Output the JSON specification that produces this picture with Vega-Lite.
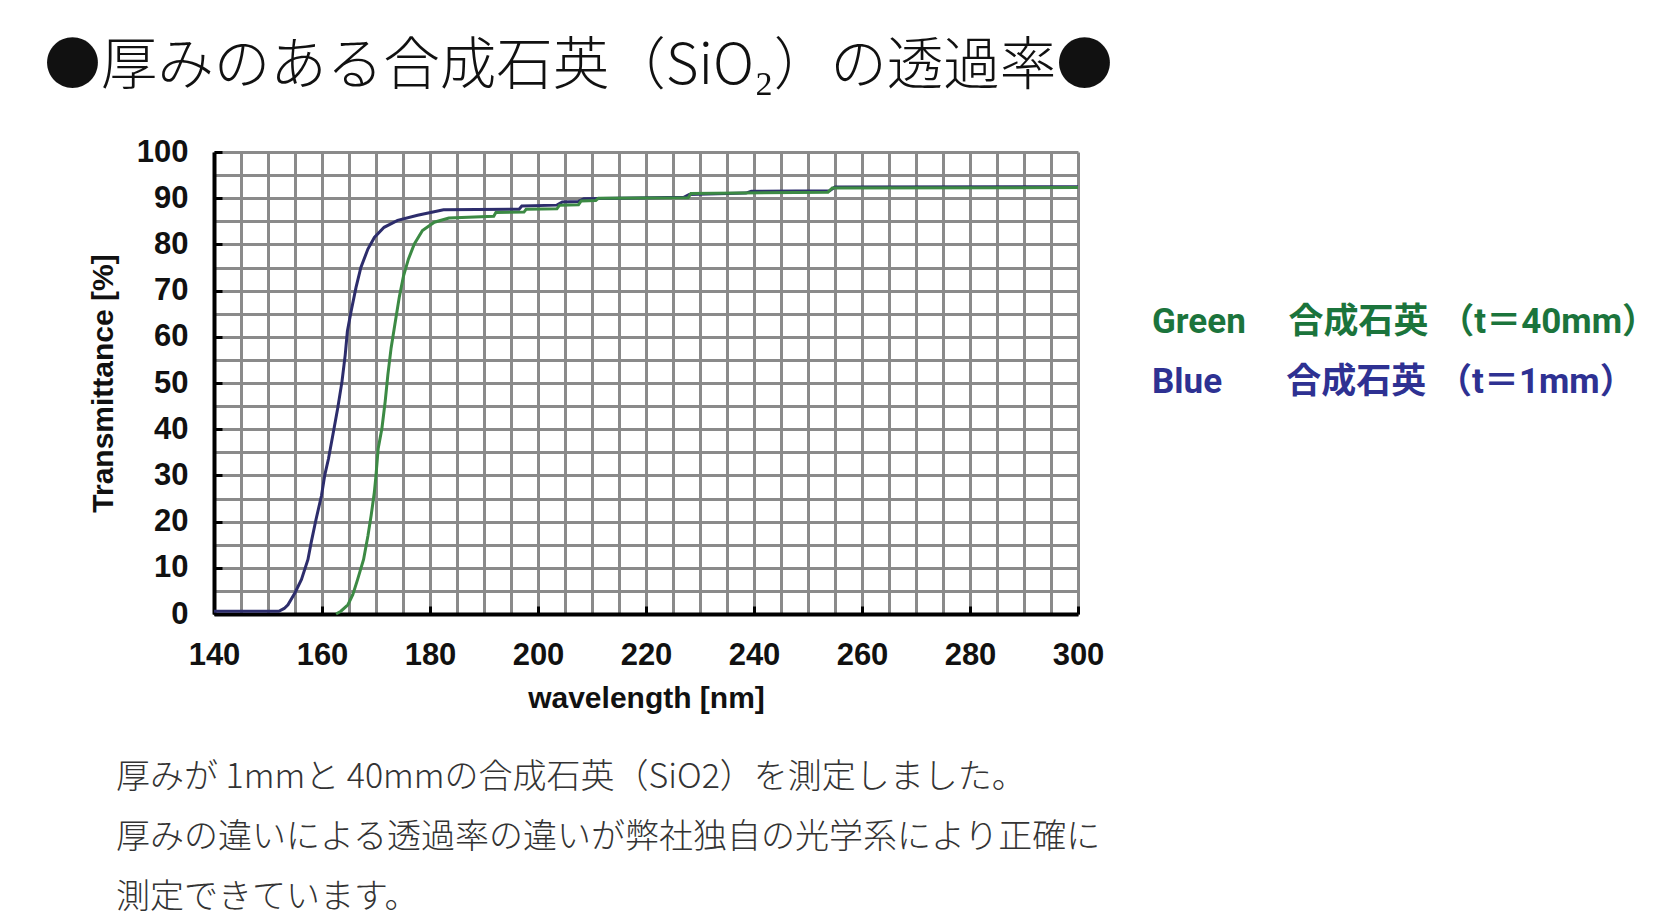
{
  "$schema": "https://vega.github.io/schema/vega-lite/v6.json",
  "background": "white",
  "padding": {"left": 44, "top": 38, "right": 0, "bottom": 5},
  "title": {
    "text": "●厚みのある合成石英（SiO₂）の透過率●",
    "anchor": "start",
    "frame": "bounds",
    "font": "Noto Sans CJK JP",
    "fontSize": 56.5,
    "fontWeight": 300,
    "color": "#111111",
    "offset": 41,
    "dx": -44
  },
  "vconcat": [
    {
      "width": 864,
      "height": 462,
      "title": {
        "text": [
          "厚みが 1mmと 40mmの合成石英（SiO2）を測定しました。",
          "厚みの違いによる透過率の違いが弊社独自の光学系により正確に",
          "測定できています。"
        ],
        "orient": "bottom",
        "anchor": "start",
        "frame": "group",
        "dx": -98,
        "offset": 48,
        "font": "Noto Sans CJK JP",
        "fontSize": 34,
        "fontWeight": 300,
        "color": "#333333",
        "lineHeight": 60
      },
      "data": {
        "values": [
          {"sample": "1mm", "wavelength": 140, "transmittance": 0.6},
          {"sample": "1mm", "wavelength": 146, "transmittance": 0.6},
          {"sample": "1mm", "wavelength": 152, "transmittance": 0.6},
          {"sample": "1mm", "wavelength": 153, "transmittance": 1.2},
          {"sample": "1mm", "wavelength": 153.7, "transmittance": 2},
          {"sample": "1mm", "wavelength": 155, "transmittance": 4.6},
          {"sample": "1mm", "wavelength": 156.2, "transmittance": 7.5},
          {"sample": "1mm", "wavelength": 157.4, "transmittance": 11.8},
          {"sample": "1mm", "wavelength": 158, "transmittance": 15.5},
          {"sample": "1mm", "wavelength": 158.9, "transmittance": 20.5},
          {"sample": "1mm", "wavelength": 159.9, "transmittance": 25.6},
          {"sample": "1mm", "wavelength": 160.5, "transmittance": 30},
          {"sample": "1mm", "wavelength": 161.2, "transmittance": 33.6},
          {"sample": "1mm", "wavelength": 162, "transmittance": 38.7},
          {"sample": "1mm", "wavelength": 162.9, "transmittance": 44.5},
          {"sample": "1mm", "wavelength": 163.7, "transmittance": 50.3},
          {"sample": "1mm", "wavelength": 164.3, "transmittance": 56.1},
          {"sample": "1mm", "wavelength": 164.7, "transmittance": 61.2},
          {"sample": "1mm", "wavelength": 165.4, "transmittance": 65.6},
          {"sample": "1mm", "wavelength": 166.3, "transmittance": 70.7},
          {"sample": "1mm", "wavelength": 167.2, "transmittance": 75},
          {"sample": "1mm", "wavelength": 168.5, "transmittance": 79},
          {"sample": "1mm", "wavelength": 169.7, "transmittance": 81.5},
          {"sample": "1mm", "wavelength": 171.5, "transmittance": 83.7},
          {"sample": "1mm", "wavelength": 174, "transmittance": 85.2},
          {"sample": "1mm", "wavelength": 177.7, "transmittance": 86.3},
          {"sample": "1mm", "wavelength": 182.5, "transmittance": 87.5},
          {"sample": "1mm", "wavelength": 196.5, "transmittance": 87.6},
          {"sample": "1mm", "wavelength": 197, "transmittance": 88.3},
          {"sample": "1mm", "wavelength": 203.5, "transmittance": 88.5},
          {"sample": "1mm", "wavelength": 204.5, "transmittance": 89.2},
          {"sample": "1mm", "wavelength": 207.5, "transmittance": 89.3},
          {"sample": "1mm", "wavelength": 208.5, "transmittance": 89.9},
          {"sample": "1mm", "wavelength": 227, "transmittance": 90.2},
          {"sample": "1mm", "wavelength": 228, "transmittance": 90.8},
          {"sample": "1mm", "wavelength": 238.5, "transmittance": 91.1},
          {"sample": "1mm", "wavelength": 239.5, "transmittance": 91.5},
          {"sample": "1mm", "wavelength": 254, "transmittance": 91.6},
          {"sample": "1mm", "wavelength": 255, "transmittance": 92.4},
          {"sample": "1mm", "wavelength": 300, "transmittance": 92.5},
          {"sample": "40mm", "wavelength": 162.6, "transmittance": 0},
          {"sample": "40mm", "wavelength": 163.5, "transmittance": 0.6},
          {"sample": "40mm", "wavelength": 164.8, "transmittance": 2},
          {"sample": "40mm", "wavelength": 165.7, "transmittance": 4.2},
          {"sample": "40mm", "wavelength": 166.6, "transmittance": 7.5},
          {"sample": "40mm", "wavelength": 167.7, "transmittance": 11.8},
          {"sample": "40mm", "wavelength": 168.5, "transmittance": 16.9},
          {"sample": "40mm", "wavelength": 169.1, "transmittance": 21.3},
          {"sample": "40mm", "wavelength": 169.7, "transmittance": 26.4},
          {"sample": "40mm", "wavelength": 170, "transmittance": 30},
          {"sample": "40mm", "wavelength": 170.4, "transmittance": 35.8},
          {"sample": "40mm", "wavelength": 171.1, "transmittance": 40.2},
          {"sample": "40mm", "wavelength": 171.7, "transmittance": 46},
          {"sample": "40mm", "wavelength": 172.2, "transmittance": 51.8},
          {"sample": "40mm", "wavelength": 172.8, "transmittance": 57.6},
          {"sample": "40mm", "wavelength": 173.5, "transmittance": 62.7},
          {"sample": "40mm", "wavelength": 174.3, "transmittance": 68.5},
          {"sample": "40mm", "wavelength": 175.1, "transmittance": 73.2},
          {"sample": "40mm", "wavelength": 176, "transmittance": 76.8},
          {"sample": "40mm", "wavelength": 177.1, "transmittance": 80.1},
          {"sample": "40mm", "wavelength": 178.6, "transmittance": 83},
          {"sample": "40mm", "wavelength": 180.8, "transmittance": 84.8},
          {"sample": "40mm", "wavelength": 183.5, "transmittance": 85.7},
          {"sample": "40mm", "wavelength": 191.8, "transmittance": 86.1},
          {"sample": "40mm", "wavelength": 192.2, "transmittance": 86.9},
          {"sample": "40mm", "wavelength": 197.4, "transmittance": 87},
          {"sample": "40mm", "wavelength": 197.8, "transmittance": 87.6},
          {"sample": "40mm", "wavelength": 203.5, "transmittance": 87.7},
          {"sample": "40mm", "wavelength": 204, "transmittance": 88.5},
          {"sample": "40mm", "wavelength": 207.5, "transmittance": 88.6},
          {"sample": "40mm", "wavelength": 208, "transmittance": 89.4},
          {"sample": "40mm", "wavelength": 210.7, "transmittance": 89.5},
          {"sample": "40mm", "wavelength": 211.2, "transmittance": 90},
          {"sample": "40mm", "wavelength": 227.8, "transmittance": 90.1},
          {"sample": "40mm", "wavelength": 228.3, "transmittance": 91},
          {"sample": "40mm", "wavelength": 253.7, "transmittance": 91.3},
          {"sample": "40mm", "wavelength": 254.5, "transmittance": 92.2},
          {"sample": "40mm", "wavelength": 300, "transmittance": 92.3}
        ]
      },
      "mark": {"type": "line", "strokeWidth": 3, "strokeCap": "butt", "clip": false},
      "encoding": {
        "x": {
          "field": "wavelength",
          "type": "quantitative",
          "scale": {"domain": [140, 300], "nice": false, "zero": false},
          "axis": {
            "values": [140, 145, 150, 155, 160, 165, 170, 175, 180, 185, 190, 195, 200, 205, 210, 215, 220, 225, 230, 235, 240, 245, 250, 255, 260, 265, 270, 275, 280, 285, 290, 295, 300],
            "labelExpr": "datum.value % 20 === 0 ? datum.label : ''",
            "tickOpacity": {"condition": {"test": "datum.value % 20 === 0", "value": 1}, "value": 0},
            "title": "wavelength [nm]",
            "titlePadding": 13
          }
        },
        "y": {
          "field": "transmittance",
          "type": "quantitative",
          "scale": {"domain": [0, 100], "nice": false},
          "axis": {
            "values": [0, 5, 10, 15, 20, 25, 30, 35, 40, 45, 50, 55, 60, 65, 70, 75, 80, 85, 90, 95, 100],
            "labelExpr": "datum.value % 10 === 0 ? datum.label : ''",
            "tickOpacity": {"condition": {"test": "datum.value % 10 === 0", "value": 1}, "value": 0},
            "title": "Transmittance [%]",
            "titlePadding": 18
          }
        },
        "color": {
          "field": "sample",
          "type": "nominal",
          "scale": {"domain": ["40mm", "1mm"], "range": ["#3c8a44", "#2d2d6c"]},
          "legend": {
            "orient": "none",
            "legendX": 903,
            "legendY": 152,
            "title": null,
            "symbolSize": 0,
            "symbolStrokeWidth": 0,
            "symbolOpacity": 0,
            "labelOffset": 0,
            "labelLimit": 0,
            "rowPadding": 24,
            "labelFont": "Roboto, Noto Sans CJK JP",
            "labelFontWeight": "bold",
            "labelFontSize": 35,
            "labelExpr": "datum.value === '40mm' ? 'Green\u2003\u2009合成石英\u2009\u200a（t＝40mm）' : 'Blue\u2003\u2002\u2009\u200a合成石英\u2009\u200a（t＝1mm）'",
            "labelColor": {"expr": "datum.value === '40mm' ? '#1b743c' : '#2e3192'"}
          }
        },
        "order": {"field": "sample", "sort": "ascending"}
      }
    }
  ],
  "config": {
    "view": {"stroke": null},
    "axis": {
      "grid": true,
      "gridColor": "#8a8a8a",
      "gridWidth": 3,
      "gridOpacity": 1,
      "domainColor": "#000000",
      "domainWidth": 4,
      "tickColor": "#000000",
      "tickWidth": 3,
      "tickSize": -8,
      "labelFont": "Liberation Sans",
      "labelFontWeight": "bold",
      "labelFontSize": 31,
      "labelColor": "#111111",
      "labelOverlap": false,
      "labelFlush": false,
      "labelBound": false,
      "titleFont": "Liberation Sans",
      "titleFontWeight": "bold",
      "titleFontSize": 30,
      "titleColor": "#111111"
    },
    "axisX": {"labelPadding": 34},
    "axisY": {"labelPadding": 34}
  }
}
